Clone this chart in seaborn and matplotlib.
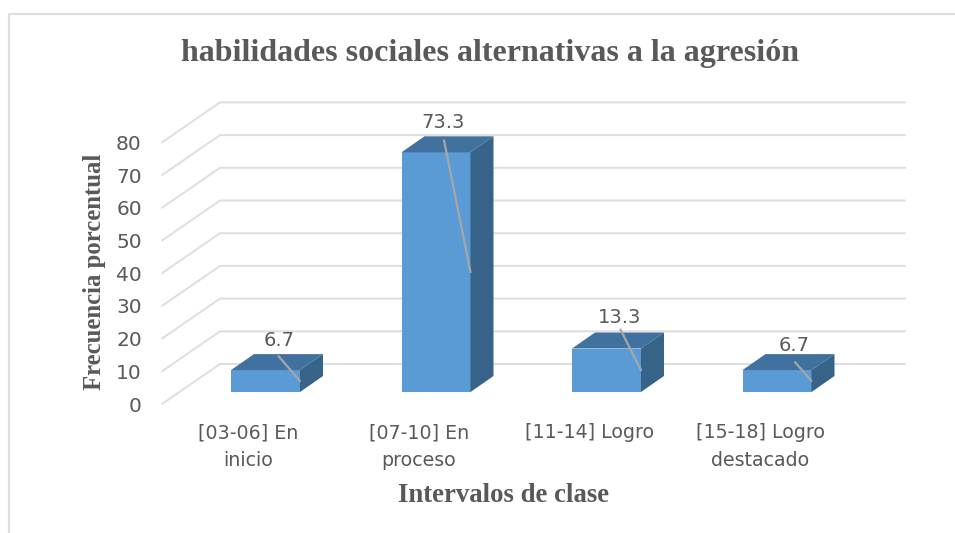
import matplotlib
matplotlib.use("Agg")
import matplotlib.pyplot as plt
from matplotlib.lines import Line2D
from matplotlib.transforms import ScaledTranslation
import pandas as pd
import seaborn as sns

categories = ["[03-06] En\ninicio", "[07-10] En\nproceso", "[11-14] Logro", "[15-18] Logro\ndestacado"]
values = [6.7, 73.3, 13.3, 6.7]
value_ticks = [0, 10, 20, 30, 40, 50, 60, 70, 80]

title = "habilidades sociales alternativas a la agresión"
x_title = "Intervalos de clase"
y_title = "Frecuencia porcentual"

# pixel geometry of the figure
W, H = 955, 533
PX_X0, PX_X1 = 162, 905     # front-left of floor, right end of back wall
PX_FLOOR_FRONT, PX_ZERO, PX_TOP = 404, 392, 102
PX_UNIT = 3.27
PX_CAT = 170.5
PX_CENTER0 = 265.5
PX_BAR = 69

# depth in pixels
WALL_DX, WALL_DY = 58, 40
BAR_DX, BAR_DY = 23, 16

# label/leader offsets in pixels relative to (bar centre, bar top)
label_off = [(14, 30), (7, 30), (13, 31), (17, 25)]
leader_off = [(13, 14), (8, 12), (14, 19), (18, 8)]

sns.set_theme(style="white")
plt.rcParams["font.family"] = ["DejaVu Sans"]
GREY = "#595959"
GRID = "#dedede"
FRONT, TOP, SIDE = "#5b9bd5", "#41719f", "#376389"
SERIF = "Liberation Serif"

fig = plt.figure(figsize=(W / 100, H / 100), dpi=100, facecolor="white")
ax = fig.add_axes([PX_X0 / W, 1 - PX_FLOOR_FRONT / H, (PX_X1 - PX_X0) / W, (PX_FLOOR_FRONT - PX_TOP) / H])
ax.patch.set_alpha(0)

df = pd.DataFrame({"categoria": categories, "valor": values})
sns.barplot(data=df, x="categoria", y="valor", color=FRONT, saturation=1,
            width=PX_BAR / PX_CAT, ax=ax, zorder=3, errorbar=None, linewidth=0)

ax.set_xlim((PX_X0 - PX_CENTER0) / PX_CAT, (PX_X1 - PX_CENTER0) / PX_CAT)
ax.set_ylim((PX_ZERO - PX_FLOOR_FRONT) / PX_UNIT, (PX_ZERO - PX_TOP) / PX_UNIT)
ax.set_xlabel("")
ax.set_ylabel("")
for s in ax.spines.values():
    s.set_visible(False)

def dx(px):
    return px / PX_CAT

def dy(px):
    return px / PX_UNIT

x_left, _ = ax.get_xlim()
floor_offset = PX_FLOOR_FRONT - PX_ZERO
# walls: gridlines on the back wall plus the diagonal on the side wall
for v in value_ticks:
    y_front = v - dy(floor_offset)
    y_back = y_front + dy(WALL_DY)
    ax.plot([x_left, x_left + dx(WALL_DX), ax.get_xlim()[1]], [y_front, y_back, y_back],
            color=GRID, lw=1.4, zorder=1, clip_on=False, solid_joinstyle="miter")

# bar depth faces
half = PX_BAR / PX_CAT / 2
for i, v in enumerate(values):
    xl, xr = i - half, i + half
    ax.fill([xl, xr, xr + dx(BAR_DX), xl + dx(BAR_DX)],
            [v, v, v + dy(BAR_DY), v + dy(BAR_DY)], color=TOP, lw=0, zorder=3)
    ax.fill([xr, xr + dx(BAR_DX), xr + dx(BAR_DX), xr],
            [0, dy(BAR_DY), v + dy(BAR_DY), v], color=SIDE, lw=0, zorder=3)
    lx, ly = label_off[i]
    sx, sy = leader_off[i]
    ax.plot([i + dx(sx), xr], [v + dy(sy), v / 2], color="#a6a6a6", lw=1.6, zorder=4)
    ax.text(i + dx(lx), v + dy(ly), f"{v:.1f}", ha="center", va="center",
            fontsize=14, color=GREY, zorder=5)

# ticks
ax.set_yticks(value_ticks)
ax.set_yticklabels([str(v) for v in value_ticks])
ax.tick_params(axis="y", length=0, pad=14.5, labelsize=14.5, labelcolor=GREY)
shift = ScaledTranslation(0, -floor_offset * 0.72 / 72, fig.dpi_scale_trans)
for lab in ax.get_yticklabels():
    lab.set_transform(lab.get_transform() + shift)
ax.set_xticks(range(len(categories)))
ax.set_xticklabels(categories, linespacing=1.55)
ax.tick_params(axis="x", length=0, pad=14, labelsize=13.7, labelcolor=GREY)
# category labels sit left of their bars
cat_shift = ScaledTranslation(-17 * 0.72 / 72, 0, fig.dpi_scale_trans)
for lab in ax.get_xticklabels():
    lab.set_transform(lab.get_transform() + cat_shift)

def figtext(px, py, s, **kw):
    fig.text(px / W, 1 - py / H, s, ha="center", va="center", color=GREY,
             family=SERIF, fontweight="bold", **kw)

figtext(490, 53, title, fontsize=23)
figtext(504, 496, x_title, fontsize=19.3)
figtext(95, 272, y_title, fontsize=17.8, rotation=90)

# chart frame
for xs, ys in [((9, 955), (14, 14)), ((9, 9), (14, 533))]:
    fig.add_artist(Line2D([x / W for x in xs], [1 - y / H for y in ys], color=GRID, lw=1.6))

fig.savefig("out.png", dpi=100, facecolor="white")
